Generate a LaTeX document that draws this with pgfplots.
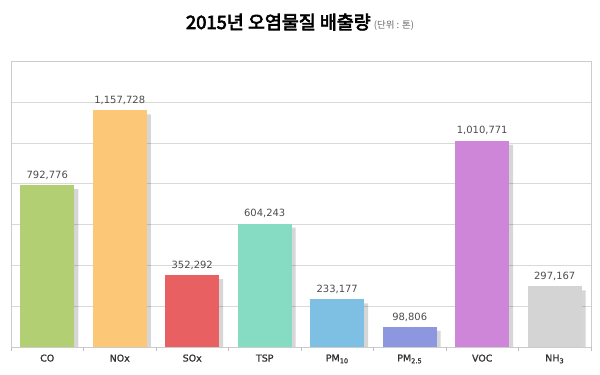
\documentclass[border=0pt]{standalone}
\usepackage{fontspec}
\usepackage{pgfplots}
\pgfplotsset{compat=1.18}
\setmainfont{DejaVu Sans}
\newfontfamily\labf{DejaVu Sans}[FakeBold=1.2]
\newfontfamily\kr{Noto Sans CJK KR}
\newfontfamily\krb{Noto Sans CJK KR}[FakeBold=3.5]
\definecolor{cCO}{HTML}{B2D073}
\definecolor{cNO}{HTML}{FCC878}
\definecolor{cSO}{HTML}{E86062}
\definecolor{cTSP}{HTML}{86DBC3}
\definecolor{cP10}{HTML}{7EC0E3}
\definecolor{cP25}{HTML}{8C97E0}
\definecolor{cVOC}{HTML}{CE86D8}
\definecolor{cNH}{HTML}{D4D4D4}
\begin{document}
\begin{tikzpicture}
\path[use as bounding box] (0,0) rectangle (600bp,375bp);
\begin{axis}[at={(11bp,28bp)}, anchor=south west, scale only axis,
  width=580bp, height=286bp,
  xmin=-0.5, xmax=7.5, ymin=0, ymax=1400000,
  ytick={0,200000,...,1400000}, yticklabels={}, ymajorgrids,
  major grid style={draw=black!15},
  axis line style={draw=black!20},
  xtick pos=bottom, ytick pos=left,
  xtick={0,...,7},
  xticklabels={CO,NOx,SOx,TSP,PM\textsubscript{10},PM\textsubscript{2.5},VOC,NH\textsubscript{3}},
  x tick label style={font=\labf\fontsize{9.5}{11}\selectfont, text=black!80, yshift=-4bp},
  major tick length=0pt,
  extra x ticks={-0.5,0.5,...,7.5}, extra x tick labels={},
  extra x tick style={major tick length=4bp, tick align=outside, tick style={draw=black!25}},
  scaled y ticks=false,
  ybar, bar width=54bp, bar shift=0pt,
  lab/.style={nodes near coords, point meta=explicit symbolic,
    nodes near coords style={font=\fontsize{10}{12}\selectfont, text=black!70, yshift=2bp}},
  sh/.style={fill=black, fill opacity=0.16, draw=none, bar shift=4bp, yshift=-4bp},
]
\addplot[sh] coordinates {(0,792776) (1,1157728) (2,352292) (3,604243) (4,233177) (5,98806) (6,1010771) (7,297167)};
\addplot[fill=cCO, draw=none, lab] coordinates {(0,792776) [792,776]};
\addplot[fill=cNO, draw=none, lab] coordinates {(1,1157728) [1,157,728]};
\addplot[fill=cSO, draw=none, lab] coordinates {(2,352292) [352,292]};
\addplot[fill=cTSP, draw=none, lab] coordinates {(3,604243) [604,243]};
\addplot[fill=cP10, draw=none, lab] coordinates {(4,233177) [233,177]};
\addplot[fill=cP25, draw=none, lab] coordinates {(5,98806) [98,806]};
\addplot[fill=cVOC, draw=none, lab] coordinates {(6,1010771) [1,010,771]};
\addplot[fill=cNH, draw=none, lab] coordinates {(7,297167) [297,167]};
\end{axis}
\node[anchor=base] at (300bp,346bp) {{\krb\fontsize{18.5}{21}\selectfont 2015년 오염물질 배출량} {\kr\fontsize{9.5}{12}\selectfont\color{black!60}(단위 : 톤)}};
\end{tikzpicture}
\end{document}
